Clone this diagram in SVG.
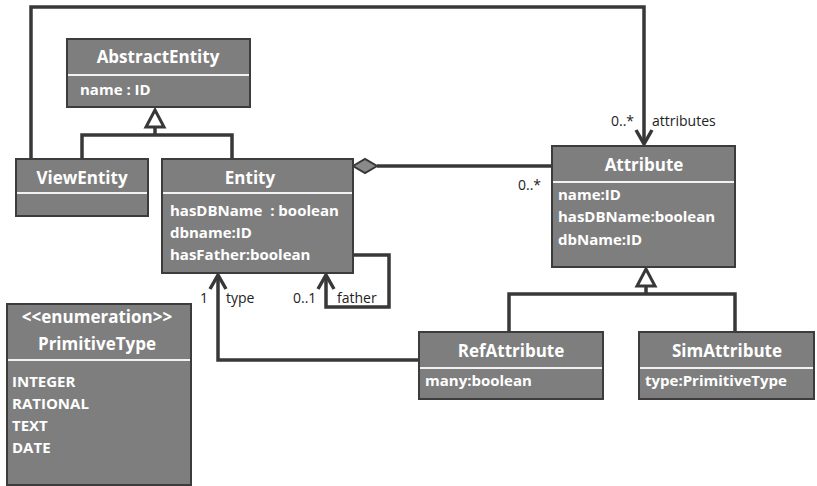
<svg xmlns="http://www.w3.org/2000/svg" width="817" height="486" viewBox="0 0 817 486">
<style>
.box{fill:#7e7e7e;stroke:#3c3c3c;stroke-width:2}
.sep{stroke:#f2f2f2;stroke-width:2}
.title{font-family:"Open Sans","Noto Sans",sans-serif;font-weight:bold;font-size:17px;fill:#fff;text-anchor:middle}
.attr{font-family:"Open Sans","Noto Sans",sans-serif;font-weight:bold;font-size:15px;fill:#fff}
.lbl{font-family:"Open Sans","Noto Sans",sans-serif;font-size:14px;fill:#222}
.con{fill:none;stroke:#383838;stroke-width:3.5}
.open{fill:none;stroke:#383838;stroke-width:3.5}
.gen{fill:#fff;stroke:#383838;stroke-width:3}
</style>
<rect width="817" height="486" fill="#fff"/>
<g id="connectors">
<polyline class="con" points="31,159 31,7 644,7 644,144"/>
<polyline class="open" points="636,130 644,144 652,130"/>
<polyline class="con" points="82,159 82,135 232,135 232,159"/>
<line class="con" x1="155" y1="135" x2="155" y2="127"/>
<polygon class="gen" points="155,110 146,127 164,127"/>
<line class="con" x1="377" y1="166" x2="552" y2="166"/>
<polygon points="353,166 365,159 377,166 365,173" fill="#8a8a8a" stroke="#383838" stroke-width="2"/>
<polyline class="con" points="509,332 509,294 735,294 735,332"/>
<line class="con" x1="646" y1="294" x2="646" y2="286"/>
<polygon class="gen" points="646,269 637,286 655,286"/>
<polyline class="con" points="419,360 218,360 218,275"/>
<polyline class="open" points="210,289 218,275 226,289"/>
<polyline class="con" points="353,255 389,255 389,307 326,307 326,275"/>
<polyline class="open" points="318,289 326,275 334,289"/>
<text class="lbl" x="611" y="126">0..*</text>
<text class="lbl" x="652" y="126">attributes</text>
<text class="lbl" x="518" y="190">0..*</text>
<text class="lbl" x="200" y="303">1</text>
<text class="lbl" x="226" y="303">type</text>
<text class="lbl" x="293" y="303">0..1</text>
<text class="lbl" x="337" y="303">father</text>
</g>
<g id="AbstractEntity">
<rect class="box" x="67" y="39" width="183" height="68"/>
<line class="sep" x1="68" y1="75" x2="249" y2="75"/>
<text class="title" x="158" y="63">AbstractEntity</text>
<text class="attr" x="80" y="95">name : ID</text>
</g>
<g id="ViewEntity">
<rect class="box" x="16" y="159" width="132" height="57"/>
<line class="sep" x1="17" y1="193" x2="147" y2="193"/>
<text class="title" x="82" y="184">ViewEntity</text>
</g>
<g id="Entity">
<rect class="box" x="162" y="159" width="191" height="114"/>
<line class="sep" x1="163" y1="193" x2="352" y2="193"/>
<text class="title" x="250" y="184">Entity</text>
<text class="attr" x="170" y="216">hasDBName&#160; : boolean</text>
<text class="attr" x="170" y="238">dbname:ID</text>
<text class="attr" x="170" y="260">hasFather:boolean</text>
</g>
<g id="Attribute">
<rect class="box" x="552" y="146" width="183" height="121"/>
<line class="sep" x1="553" y1="182" x2="734" y2="182"/>
<text class="title" x="644" y="171">Attribute</text>
<text class="attr" x="558" y="200">name:ID</text>
<text class="attr" x="558" y="222">hasDBName:boolean</text>
<text class="attr" x="558" y="245">dbName:ID</text>
</g>
<g id="RefAttribute">
<rect class="box" x="419" y="332" width="184" height="67"/>
<line class="sep" x1="420" y1="368" x2="602" y2="368"/>
<text class="title" x="511" y="357">RefAttribute</text>
<text class="attr" x="425" y="386">many:boolean</text>
</g>
<g id="SimAttribute">
<rect class="box" x="639" y="332" width="175" height="67"/>
<line class="sep" x1="640" y1="368" x2="813" y2="368"/>
<text class="title" x="727" y="357">SimAttribute</text>
<text class="attr" x="645" y="386">type:PrimitiveType</text>
</g>
<g id="PrimitiveType">
<rect class="box" x="7" y="304" width="184" height="181"/>
<line class="sep" x1="8" y1="360" x2="190" y2="360"/>
<text class="title" x="97" y="323">&lt;&lt;enumeration&gt;&gt;</text>
<text class="title" x="97" y="350">PrimitiveType</text>
<text class="attr" x="12" y="387">INTEGER</text>
<text class="attr" x="12" y="409">RATIONAL</text>
<text class="attr" x="12" y="431">TEXT</text>
<text class="attr" x="12" y="453">DATE</text>
</g>
</svg>
